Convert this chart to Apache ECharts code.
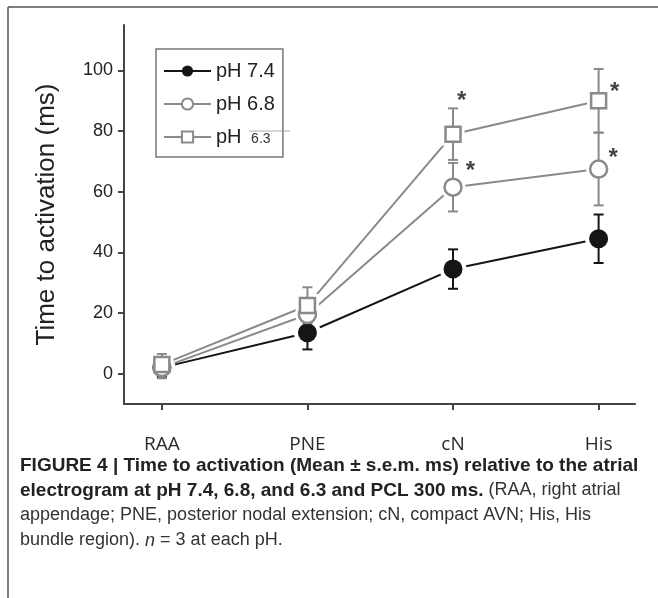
<!DOCTYPE html>
<html><head><meta charset="utf-8">
<script src="https://cdn.jsdelivr.net/npm/echarts@6/dist/echarts.min.js"></script>
<style>html,body{margin:0;padding:0;background:#fff}#c{width:658px;height:598px}</style>
</head><body><div id="c"></div>
<script>
const categories = ['RAA', 'PNE', 'cN', 'His'];
const xPos = [1, 2, 3, 4];
const yTicks = [0, 20, 40, 60, 80, 100];
const ph74 = [2, 13.5, 34.5, 44.5];
const err74 = [3, 5.5, 6.5, 8];
const ph68 = [2, 19.5, 61.5, 67.5];
const err68 = [3.5, 5, 8, 12];
const ph63 = [3, 22.5, 79, 90];
const err63 = [3.5, 6, 8.5, 10.5];
const starX = [3.06, 3.12, 4.11, 4.10];
const starY = [91.9, 68.8, 94.9, 73.1];

const BLACK = '#151515', GRAY = '#8a8a8a';
const pts = v => v.map((y, i) => [xPos[i], y]);
const errs = (v, e) => v.map((y, i) => [xPos[i], y - e[i], y + e[i]]);

function errSeries(v, e, color) {
  return {
    type: 'custom', silent: true, z: 4,
    data: errs(v, e),
    renderItem: (params, api) => {
      const x = api.value(0);
      const lo = api.coord([x, api.value(1)]);
      const hi = api.coord([x, api.value(2)]);
      const w = 5;
      const st = { stroke: color, lineWidth: 2 };
      return { type: 'group', children: [
        { type: 'line', shape: { x1: lo[0], y1: lo[1], x2: hi[0], y2: hi[1] }, style: st },
        { type: 'line', shape: { x1: lo[0] - w, y1: lo[1], x2: lo[0] + w, y2: lo[1] }, style: st },
        { type: 'line', shape: { x1: hi[0] - w, y1: hi[1], x2: hi[0] + w, y2: hi[1] }, style: st }
      ]};
    }
  };
}
function halo(v, sym, size) {
  return { type: 'scatter', silent: true, z: 3, symbol: sym, symbolSize: size,
    itemStyle: { color: '#fff', opacity: 1 }, data: pts(v) };
}
function marker(v, sym, size, fill, border, bw, z) {
  return { type: 'scatter', silent: true, z: z, symbol: sym, symbolSize: size,
    itemStyle: { color: fill, borderColor: border, borderWidth: bw, opacity: 1 }, data: pts(v) };
}

const CAP = 'Liberation Sans';
const chart = echarts.init(document.getElementById('c'), null, { renderer: 'canvas' });
chart.setOption({
  animation: false,
  backgroundColor: '#fff',
  grid: { left: 124, right: 23, top: 25, bottom: 194 },
  xAxis: {
    type: 'value', min: 0.74, max: 4.25,
    splitLine: { show: false },
    axisLine: { onZero: false, lineStyle: { color: '#444', width: 2 } },
    axisTick: { customValues: xPos, length: 6, lineStyle: { color: '#444', width: 2 } },
    axisLabel: { customValues: xPos, margin: 31, fontSize: 19, color: '#2a2a2a',
      fontFamily: 'Open Sans', formatter: v => categories[Math.round(v) - 1] }
  },
  yAxis: {
    type: 'value', min: -10, max: 115,
    name: 'Time to activation (ms)', nameLocation: 'middle', nameGap: 64,
    nameTextStyle: { fontSize: 26, color: '#222', fontFamily: 'Liberation Sans' },
    splitLine: { show: false },
    axisLine: { onZero: false, lineStyle: { color: '#444', width: 2 } },
    axisTick: { customValues: yTicks, length: 6, lineStyle: { color: '#444', width: 2 } },
    axisLabel: { customValues: yTicks, margin: 11, fontSize: 18, color: '#222', fontFamily: 'Liberation Sans' }
  },
  legend: {
    orient: 'vertical', left: 156, top: 49,
    padding: [12, 8, 10, 7], itemGap: 13, itemWidth: 47, itemHeight: 14,
    borderColor: '#777', borderWidth: 1.5, borderRadius: 0,
    textStyle: { fontSize: 20, color: '#222', fontFamily: 'Liberation Sans',
      rich: { s: { fontSize: 14, color: '#333', fontFamily: 'Liberation Sans', padding: [4, 0, 0, 4] } } },
    formatter: n => n === 'pH 6.3' ? 'pH {s|6.3}' : n,
    data: ['pH 7.4', 'pH 6.8', 'pH 6.3']
  },
  graphic: [
    { type: 'line', shape: { x1: 8, y1: 7, x2: 658, y2: 7 }, style: { stroke: '#555', lineWidth: 1.5 } },
    { type: 'line', shape: { x1: 8, y1: 7, x2: 8, y2: 598 }, style: { stroke: '#555', lineWidth: 1.5 } },
    { type: 'line', shape: { x1: 249, y1: 131, x2: 290, y2: 131 }, style: { stroke: '#aaa', lineWidth: 1 } },
    { type: 'text', left: 20, top: 456, style: {
      text: '{b|FIGURE 4 | Time to activation (Mean ± s.e.m. ms) relative to the atrial}\n' +
            '{b|electrogram at pH 7.4, 6.8, and 6.3 and PCL 300 ms.}{r| (RAA, right atrial}\n' +
            '{r|appendage; PNE, posterior nodal extension; cN, compact AVN; His, His}\n' +
            '{r|bundle region). }{i|n}{r| = 3 at each pH.}',
      rich: {
        b: { fontFamily: CAP, fontWeight: 'bold', fontSize: 19, lineHeight: 25, fill: '#222' },
        r: { fontFamily: CAP, fontSize: 18, lineHeight: 25, fill: '#333' },
        i: { fontFamily: CAP, fontStyle: 'italic', fontSize: 18, lineHeight: 25, fill: '#333' }
      }
    } }
  ],
  series: [
    { name: 'pH 7.4', type: 'line', data: pts(ph74), z: 2,
      symbol: 'circle', symbolSize: 19, showAllSymbol: true,
      lineStyle: { color: BLACK, width: 2 }, itemStyle: { color: BLACK, borderColor: BLACK, borderWidth: 0 } },
    { name: 'pH 6.8', type: 'line', data: pts(ph68), z: 2,
      symbol: 'circle', symbolSize: 17,
      lineStyle: { color: GRAY, width: 2 }, itemStyle: { color: '#fff', borderColor: GRAY, borderWidth: 2.5 } },
    { name: 'pH 6.3', type: 'line', data: pts(ph63), z: 2,
      symbol: 'rect', symbolSize: 15,
      lineStyle: { color: GRAY, width: 2 }, itemStyle: { color: '#fff', borderColor: GRAY, borderWidth: 2.5 } },
    halo(ph74, 'circle', 27),
    halo(ph68, 'circle', 25),
    halo(ph63, 'rect', 23),
    errSeries(ph74, err74, BLACK),
    errSeries(ph68, err68, GRAY),
    errSeries(ph63, err63, GRAY),
    marker(ph74, 'circle', 19, BLACK, BLACK, 0, 5),
    marker(ph68, 'circle', 17, '#fff', GRAY, 2.5, 6),
    marker(ph63, 'rect', 15, '#fff', GRAY, 2.5, 7),
    { type: 'scatter', silent: true, z: 8, symbolSize: 1,
      itemStyle: { color: 'rgba(0,0,0,0)' },
      data: starX.map((x, i) => [x, starY[i]]),
      label: { show: true, position: 'inside', formatter: '*', fontSize: 24, fontWeight: 'bold',
        color: '#111', fontFamily: 'Liberation Sans', offset: [0, 6] } }
  ]
});
</script></body></html>
